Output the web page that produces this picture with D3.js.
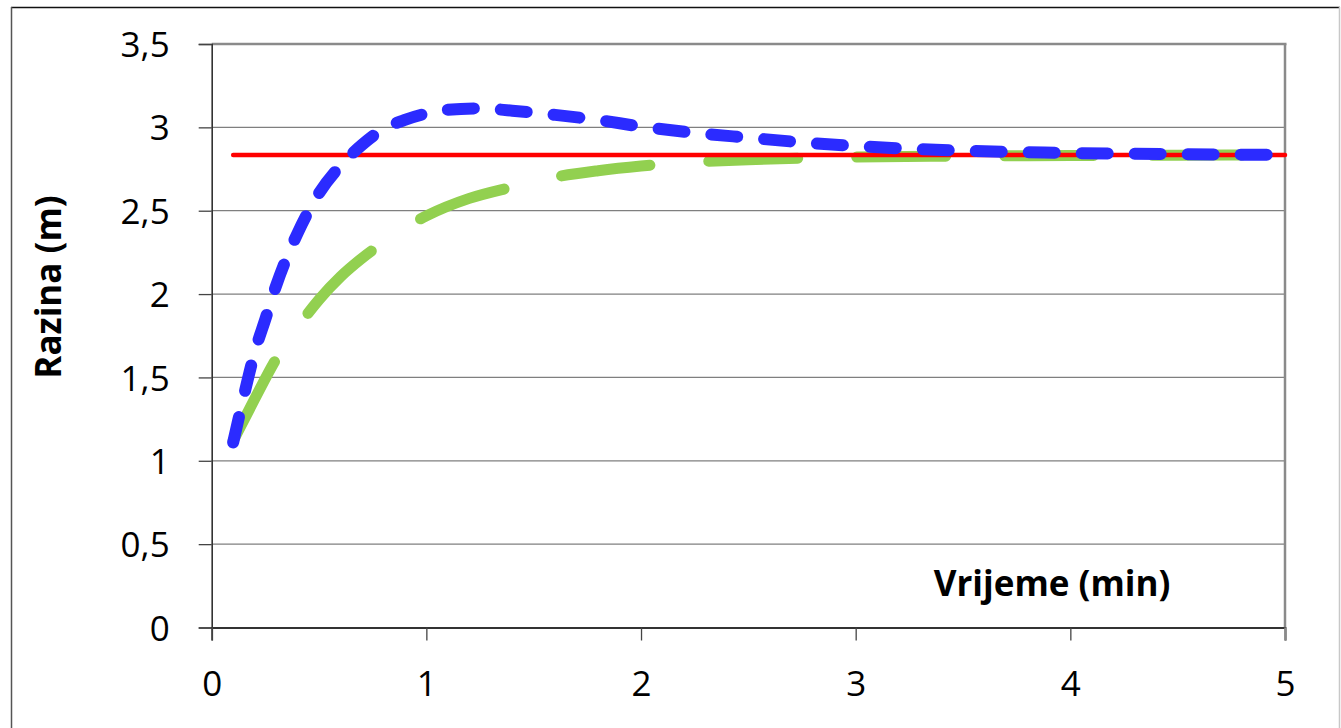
<!DOCTYPE html>
<html>
<head>
<meta charset="utf-8">
<script src="https://cdn.jsdelivr.net/npm/d3@7"></script>
<style>
  html, body { margin: 0; padding: 0; background: #fff; }
  svg { display: block; }
  text { font-family: "Open Sans", "Noto Sans", sans-serif; fill: #000; }
</style>
</head>
<body>
<svg id="chart" width="1341" height="728"></svg>
<script>
// ---- data ----
const xTicks = [0, 1, 2, 3, 4, 5];
const yTicks = [0, 0.5, 1, 1.5, 2, 2.5, 3, 3.5];
const yTickLabels = ["0", "0,5", "1", "1,5", "2", "2,5", "3", "3,5"];

const blueX = [0.1, 0.15, 0.2, 0.25, 0.3, 0.35, 0.4, 0.5, 0.6, 0.7, 0.8, 0.9, 1.0, 1.1, 1.25, 1.4, 1.6, 1.8, 2.0, 2.25, 2.5, 2.75, 3.0, 3.5, 4.0, 4.5, 5.0];
const blueY = [1.11, 1.39, 1.65, 1.85, 2.05, 2.22, 2.365, 2.605, 2.77, 2.895, 2.99, 3.045, 3.083, 3.106, 3.114, 3.10, 3.075, 3.044, 3.005, 2.967, 2.938, 2.91, 2.888, 2.86, 2.846, 2.839, 2.835];

const greenX = [0.1, 0.2, 0.3, 0.4, 0.5, 0.6, 0.7, 0.8, 0.9, 1.0, 1.2, 1.4, 1.6, 1.8, 2.0, 2.25, 2.5, 2.75, 3.0, 3.5, 4.0, 4.5, 5.0];
const greenY = [1.12, 1.37, 1.61, 1.80, 1.967, 2.104, 2.215, 2.31, 2.398, 2.469, 2.574, 2.642, 2.702, 2.74, 2.768, 2.792, 2.806, 2.815, 2.822, 2.828, 2.831, 2.833, 2.834];

const redX = [0.1, 5.0];
const redY = [2.834, 2.834];

const xTitle = "Vrijeme (min)";
const yTitle = "Razina (m)";

// ---- layout ----
const svg = d3.select("#chart");
const L = 211.7, R = 1285, T = 44, B = 627.5;

const x = d3.scaleLinear().domain([0, 5]).range([L, R]);
const y = d3.scaleLinear().domain([0, 3.5]).range([B, T]);

// outer chart border
svg.append("line").attr("x1", 11).attr("x2", 1340).attr("y1", 7.5).attr("y2", 7.5)
  .attr("stroke", "#111").attr("stroke-width", 1.5);
svg.append("line").attr("x1", 11.5).attr("x2", 11.5).attr("y1", 7).attr("y2", 728)
  .attr("stroke", "#555").attr("stroke-width", 1.5);
svg.append("line").attr("x1", 1339.5).attr("x2", 1339.5).attr("y1", 7).attr("y2", 728)
  .attr("stroke", "#c8c8c8").attr("stroke-width", 1.5);

// gridlines
svg.append("g").selectAll("line").data(yTicks.filter(d => d > 0 && d < 3.5)).join("line")
  .attr("x1", L).attr("x2", R)
  .attr("y1", d => y(d)).attr("y2", d => y(d))
  .attr("stroke", "#7f7f7f").attr("stroke-width", 1.3);

// plot border top/right
svg.append("line").attr("x1", L).attr("x2", R + 1.5).attr("y1", y(3.5)).attr("y2", y(3.5))
  .attr("stroke", "#8a8a8a").attr("stroke-width", 2.5);
svg.append("line").attr("x1", R).attr("x2", R).attr("y1", y(3.5)).attr("y2", B)
  .attr("stroke", "#8a8a8a").attr("stroke-width", 2.5);

// axes
const yAxis = d3.axisLeft(y).tickValues(yTicks).tickSize(13)
  .tickFormat((d, i) => yTickLabels[i]).tickPadding(29);
const gy = svg.append("g").attr("transform", `translate(${L},0)`).call(yAxis);
gy.select(".domain").attr("stroke", "#333").attr("stroke-width", 1.6);
gy.selectAll(".tick line").attr("stroke", "#444").attr("stroke-width", 1.3);
gy.selectAll(".tick text").style("font-size", "35px").style("font-family", "'Open Sans', 'Noto Sans', sans-serif").attr("fill", "#000").attr("dy", "0.36em");

const xAxis = d3.axisBottom(x).tickValues(xTicks).tickSize(13).tickFormat(d3.format("d")).tickPadding(31);
const gx = svg.append("g").attr("transform", `translate(0,${B})`).call(xAxis);
gx.select(".domain").attr("stroke", "#333").attr("stroke-width", 1.8);
gx.selectAll(".tick line").attr("stroke", "#444").attr("stroke-width", 1.3);
gx.selectAll(".tick text").style("font-size", "35px").style("font-family", "'Open Sans', 'Noto Sans', sans-serif").attr("fill", "#000");
gx.select(".tick:last-of-type line").attr("stroke", "#8a8a8a").attr("stroke-width", 2.5);

// series
const line = d3.line().x(d => x(d[0])).y(d => y(d[1])).curve(d3.curveMonotoneX);
const zip = (a, b) => a.map((v, i) => [v, b[i]]);

svg.append("path").datum(zip(greenX, greenY)).attr("d", line)
  .attr("fill", "none").attr("stroke", "#92d050").attr("stroke-width", 11)
  .attr("stroke-linecap", "round").attr("stroke-dasharray", "89 59");

svg.append("path").datum(zip(redX, redY)).attr("d", line)
  .attr("fill", "none").attr("stroke", "#ff0000").attr("stroke-width", 4.5)
  .attr("stroke-linecap", "round");

svg.append("path").datum(zip(blueX, blueY)).attr("d", line)
  .attr("fill", "none").attr("stroke", "#2b2bff").attr("stroke-width", 12)
  .attr("stroke-linecap", "round").attr("stroke-dasharray", "26 27");

// titles
svg.append("text").attr("x", 1052).attr("y", 596).attr("text-anchor", "middle")
  .style("font-size", "35px").style("font-weight", "bold").text(xTitle);

svg.append("text").attr("transform", "translate(61,287) rotate(-90)").attr("text-anchor", "middle")
  .style("font-size", "35px").style("font-weight", "bold").text(yTitle);
</script>
</body>
</html>
